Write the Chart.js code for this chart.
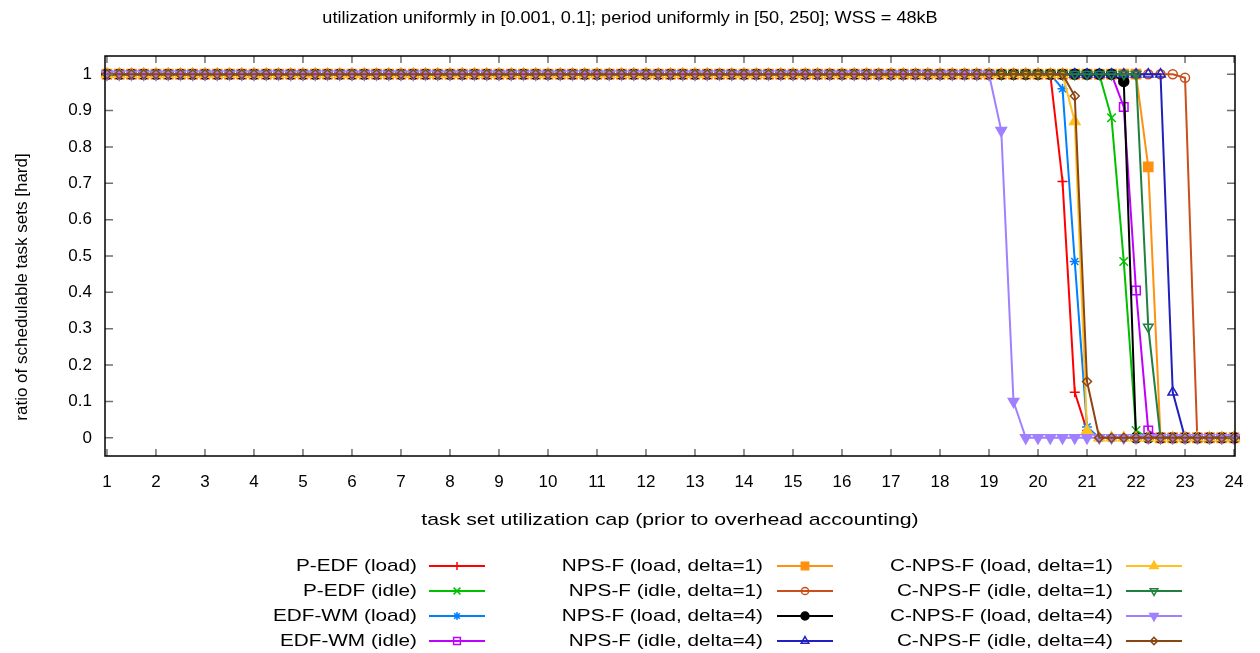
<!DOCTYPE html>
<html>
<head>
<meta charset="utf-8">
<script src="https://cdn.jsdelivr.net/npm/chart.js@4/dist/chart.umd.min.js"></script>
<style>
html,body{margin:0;padding:0;background:#fff;}
#wrap{width:1260px;height:653px;}
</style>
</head>
<body>
<div id="wrap"><canvas id="c" width="1260" height="653"></canvas></div>
<script>
const titleText = "utilization uniformly in [0.001, 0.1]; period uniformly in [50, 250]; WSS = 48kB";
const xLabel = "task set utilization cap (prior to overhead accounting)";
const yLabel = "ratio of schedulable task sets [hard]";

const utilCap = [
  1,1.25,1.5,1.75, 2,2.25,2.5,2.75, 3,3.25,3.5,3.75, 4,4.25,4.5,4.75,
  5,5.25,5.5,5.75, 6,6.25,6.5,6.75, 7,7.25,7.5,7.75, 8,8.25,8.5,8.75,
  9,9.25,9.5,9.75, 10,10.25,10.5,10.75, 11,11.25,11.5,11.75, 12,12.25,12.5,12.75,
  13,13.25,13.5,13.75, 14,14.25,14.5,14.75, 15,15.25,15.5,15.75, 16,16.25,16.5,16.75,
  17,17.25,17.5,17.75, 18,18.25,18.5,18.75,
  19,19.25,19.5,19.75, 20,20.25,20.5,20.75, 21,21.25,21.5,21.75, 22,22.25,22.5,22.75,
  23,23.25,23.5,23.75, 24
];

const xTickLabels = ["1","2","3","4","5","6","7","8","9","10","11","12","13","14","15","16","17","18","19","20","21","22","23","24"];
const yTickLabels = ["0","0.1","0.2","0.3","0.4","0.5","0.6","0.7","0.8","0.9","1"];

// first 72 values (caps 1 .. 18.75) followed by caps 19 .. 24
const pEdfLoad = [
  1,1,1,1,1,1,1,1,1,1,1,1, 1,1,1,1,1,1,1,1,1,1,1,1,
  1,1,1,1,1,1,1,1,1,1,1,1, 1,1,1,1,1,1,1,1,1,1,1,1,
  1,1,1,1,1,1,1,1,1,1,1,1, 1,1,1,1,1,1,1,1,1,1,1,1,
  1,1,1,1,1,1,0.705,0.125,0.02,0,0,0,0,0,0,0,0,0,0,0,0
];
const pEdfIdle = [
  1,1,1,1,1,1,1,1,1,1,1,1, 1,1,1,1,1,1,1,1,1,1,1,1,
  1,1,1,1,1,1,1,1,1,1,1,1, 1,1,1,1,1,1,1,1,1,1,1,1,
  1,1,1,1,1,1,1,1,1,1,1,1, 1,1,1,1,1,1,1,1,1,1,1,1,
  1,1,1,1,1,1,1,1,1,1,0.88,0.485,0.02,0,0,0,0,0,0,0,0
];
const edfWmLoad = [
  1,1,1,1,1,1,1,1,1,1,1,1, 1,1,1,1,1,1,1,1,1,1,1,1,
  1,1,1,1,1,1,1,1,1,1,1,1, 1,1,1,1,1,1,1,1,1,1,1,1,
  1,1,1,1,1,1,1,1,1,1,1,1, 1,1,1,1,1,1,1,1,1,1,1,1,
  1,1,1,1,1,1,0.96,0.485,0.03,0,0,0,0,0,0,0,0,0,0,0,0
];
const edfWmIdle = [
  1,1,1,1,1,1,1,1,1,1,1,1, 1,1,1,1,1,1,1,1,1,1,1,1,
  1,1,1,1,1,1,1,1,1,1,1,1, 1,1,1,1,1,1,1,1,1,1,1,1,
  1,1,1,1,1,1,1,1,1,1,1,1, 1,1,1,1,1,1,1,1,1,1,1,1,
  1,1,1,1,1,1,1,1,1,1,1,0.91,0.405,0.02,0,0,0,0,0,0,0
];
const npsfLoad1 = [
  1,1,1,1,1,1,1,1,1,1,1,1, 1,1,1,1,1,1,1,1,1,1,1,1,
  1,1,1,1,1,1,1,1,1,1,1,1, 1,1,1,1,1,1,1,1,1,1,1,1,
  1,1,1,1,1,1,1,1,1,1,1,1, 1,1,1,1,1,1,1,1,1,1,1,1,
  1,1,1,1,1,1,1,1,1,1,1,1,1,0.745,0,0,0,0,0,0,0
];
const npsfIdle1 = [
  1,1,1,1,1,1,1,1,1,1,1,1, 1,1,1,1,1,1,1,1,1,1,1,1,
  1,1,1,1,1,1,1,1,1,1,1,1, 1,1,1,1,1,1,1,1,1,1,1,1,
  1,1,1,1,1,1,1,1,1,1,1,1, 1,1,1,1,1,1,1,1,1,1,1,1,
  1,1,1,1,1,1,1,1,1,1,1,1,1,1,1,1,0.99,0,0,0,0
];
const npsfLoad4 = [
  1,1,1,1,1,1,1,1,1,1,1,1, 1,1,1,1,1,1,1,1,1,1,1,1,
  1,1,1,1,1,1,1,1,1,1,1,1, 1,1,1,1,1,1,1,1,1,1,1,1,
  1,1,1,1,1,1,1,1,1,1,1,1, 1,1,1,1,1,1,1,1,1,1,1,1,
  1,1,1,1,1,1,1,1,1,1,1,0.98,0,0,0,0,0,0,0,0,0
];
const npsfIdle4 = [
  1,1,1,1,1,1,1,1,1,1,1,1, 1,1,1,1,1,1,1,1,1,1,1,1,
  1,1,1,1,1,1,1,1,1,1,1,1, 1,1,1,1,1,1,1,1,1,1,1,1,
  1,1,1,1,1,1,1,1,1,1,1,1, 1,1,1,1,1,1,1,1,1,1,1,1,
  1,1,1,1,1,1,1,1,1,1,1,1,1,1,1,0.125,0,0,0,0,0
];
const cnpsfLoad1 = [
  1,1,1,1,1,1,1,1,1,1,1,1, 1,1,1,1,1,1,1,1,1,1,1,1,
  1,1,1,1,1,1,1,1,1,1,1,1, 1,1,1,1,1,1,1,1,1,1,1,1,
  1,1,1,1,1,1,1,1,1,1,1,1, 1,1,1,1,1,1,1,1,1,1,1,1,
  1,1,1,1,1,1,1,0.87,0.02,0,0,0,0,0,0,0,0,0,0,0,0
];
const cnpsfIdle1 = [
  1,1,1,1,1,1,1,1,1,1,1,1, 1,1,1,1,1,1,1,1,1,1,1,1,
  1,1,1,1,1,1,1,1,1,1,1,1, 1,1,1,1,1,1,1,1,1,1,1,1,
  1,1,1,1,1,1,1,1,1,1,1,1, 1,1,1,1,1,1,1,1,1,1,1,1,
  1,1,1,1,1,1,1,1,1,1,1,1,1,0.305,0,0,0,0,0,0,0
];
const cnpsfLoad4 = [
  1,1,1,1,1,1,1,1,1,1,1,1, 1,1,1,1,1,1,1,1,1,1,1,1,
  1,1,1,1,1,1,1,1,1,1,1,1, 1,1,1,1,1,1,1,1,1,1,1,1,
  1,1,1,1,1,1,1,1,1,1,1,1, 1,1,1,1,1,1,1,1,1,1,1,1,
  1,0.845,0.1,0,0,0,0,0,0,0,0,0,0,0,0,0,0,0,0,0,0
];
const cnpsfIdle4 = [
  1,1,1,1,1,1,1,1,1,1,1,1, 1,1,1,1,1,1,1,1,1,1,1,1,
  1,1,1,1,1,1,1,1,1,1,1,1, 1,1,1,1,1,1,1,1,1,1,1,1,
  1,1,1,1,1,1,1,1,1,1,1,1, 1,1,1,1,1,1,1,1,1,1,1,1,
  1,1,1,1,1,1,1,0.94,0.155,0,0,0,0,0,0,0,0,0,0,0,0
];

const seriesNames = [
  "P-EDF (load)", "P-EDF (idle)", "EDF-WM (load)", "EDF-WM (idle)",
  "NPS-F (load, delta=1)", "NPS-F (idle, delta=1)", "NPS-F (load, delta=4)", "NPS-F (idle, delta=4)",
  "C-NPS-F (load, delta=1)", "C-NPS-F (idle, delta=1)", "C-NPS-F (load, delta=4)", "C-NPS-F (idle, delta=4)"
];
const seriesValues = [pEdfLoad, pEdfIdle, edfWmLoad, edfWmIdle, npsfLoad1, npsfIdle1, npsfLoad4, npsfIdle4, cnpsfLoad1, cnpsfIdle1, cnpsfLoad4, cnpsfIdle4];

// styling (not data)
const styles = [
  {c:'#ff0000', ps:'cross',    r:5,   rot:0,   fill:false},
  {c:'#00c000', ps:'crossRot', r:6,   rot:0,   fill:false},
  {c:'#0080ff', ps:'star',     r:5,   rot:0,   fill:false},
  {c:'#c000ff', ps:'rect',     r:6,   rot:0,   fill:false},
  {c:'#ff9010', ps:'rect',     r:6.5, rot:0,   fill:true},
  {c:'#c8501e', ps:'circle',   r:4.5, rot:0,   fill:false},
  {c:'#000000', ps:'circle',   r:5,   rot:0,   fill:true},
  {c:'#2020c0', ps:'triangle', r:5.5, rot:0,   fill:false},
  {c:'#ffc020', ps:'triangle', r:6,   rot:0,   fill:true},
  {c:'#208040', ps:'triangle', r:5.5, rot:180, fill:false},
  {c:'#a080ff', ps:'triangle', r:6,   rot:180, fill:true},
  {c:'#8b4513', ps:'rectRot',  r:4.5, rot:0,   fill:false}
];

const datasets = seriesValues.map((vals, i) => {
  const s = styles[i];
  return {
    label: seriesNames[i],
    data: utilCap.map((x, k) => ({x: x, y: vals[k]})),
    borderColor: s.c,
    backgroundColor: s.c,
    borderWidth: 2,
    pointStyle: s.ps,
    pointRadius: s.r,
    pointRotation: s.rot,
    pointBorderColor: s.c,
    pointBackgroundColor: s.fill ? s.c : 'rgba(0,0,0,0)',
    pointBorderWidth: 1.5,
    pointHoverRadius: s.r,
    tension: 0,
    fill: false,
    clip: false,
    order: seriesValues.length - i
  };
});

const SX = 1.22;
const FONT = '17px "Liberation Sans", Arial, sans-serif';

function sText(ctx, str, x, y, align, sx) {
  ctx.save();
  ctx.translate(x, y);
  ctx.scale(sx, 1);
  ctx.textAlign = align;
  ctx.textBaseline = 'middle';
  ctx.fillText(str, 0, 0);
  ctx.restore();
}

const gnuplotLook = {
  id: 'gnuplotLook',
  afterDatasetsDraw(chart) {
    const ctx = chart.ctx, a = chart.chartArea, xs = chart.scales.x, ys = chart.scales.y;
    ctx.save();
    ctx.strokeStyle = '#707070';
    ctx.lineWidth = 1.5;
    ctx.beginPath();
    xs.ticks.forEach(t => {
      const px = xs.getPixelForValue(t.value);
      ctx.moveTo(px, a.bottom); ctx.lineTo(px, a.bottom - 7);
      ctx.moveTo(px, a.top); ctx.lineTo(px, a.top + 7);
    });
    ys.ticks.forEach(t => {
      const py = ys.getPixelForValue(t.value);
      ctx.moveTo(a.left, py); ctx.lineTo(a.left + 8, py);
      ctx.moveTo(a.right, py); ctx.lineTo(a.right - 8, py);
    });
    ctx.stroke();
    ctx.strokeStyle = '#000';
    ctx.lineWidth = 1.5;
    ctx.strokeRect(a.left, a.top, a.right - a.left, a.bottom - a.top);
    ctx.restore();
  },
  afterDraw(chart) {
    const ctx = chart.ctx, a = chart.chartArea;
    ctx.save();
    ctx.fillStyle = '#000';
    ctx.font = FONT;
    sText(ctx, titleText, 630, 18, 'center', 1.065);
    sText(ctx, xLabel, (a.left + a.right) / 2, 520, 'center', 1.25);
    // y label (rotated)
    ctx.save();
    ctx.translate(22, 287);
    ctx.rotate(-Math.PI / 2);
    ctx.textAlign = 'center';
    ctx.textBaseline = 'middle';
    ctx.fillText(yLabel, 0, 0);
    ctx.restore();

    // legend: 3 columns x 4 rows
    const textRight = [417, 763, 1113];
    const lineX1 = [429, 777, 1126];
    const lineX2 = [485, 833, 1182];
    const rowY = [566, 591, 616, 641];
    chart.data.datasets.forEach((ds, i) => {
      const col = Math.floor(i / 4), row = i % 4;
      const y = rowY[row];
      ctx.fillStyle = '#000';
      sText(ctx, ds.label, textRight[col], y, 'right', SX);
      ctx.strokeStyle = ds.borderColor;
      ctx.lineWidth = 2;
      ctx.beginPath();
      ctx.moveTo(lineX1[col], y); ctx.lineTo(lineX2[col], y);
      ctx.stroke();
      const mx = (lineX1[col] + lineX2[col]) / 2;
      ctx.fillStyle = ds.pointBackgroundColor;
      ctx.strokeStyle = ds.pointBorderColor;
      ctx.lineWidth = 1.5;
      Chart.helpers.drawPoint(ctx, {
        pointStyle: ds.pointStyle,
        rotation: ds.pointRotation,
        radius: ds.pointRadius * 0.8,
        borderWidth: 1.5
      }, mx, y);
    });
    ctx.restore();
  }
};

new Chart(document.getElementById('c'), {
  type: 'line',
  data: { datasets: datasets },
  plugins: [gnuplotLook],
  options: {
    responsive: false,
    animation: false,
    devicePixelRatio: 1,
    layout: { padding: { top: 56, right: 25, left: 0, bottom: 0 } },
    plugins: { legend: { display: false }, title: { display: false }, tooltip: { enabled: false } },
    scales: {
      x: {
        type: 'linear',
        min: 0.96, max: 24.02,
        grid: { display: false, drawTicks: false },
        border: { display: false },
        afterFit(scale) { scale.height = 653 - 456; },
        afterBuildTicks(scale) {
          scale.ticks = xTickLabels.map(l => ({ value: Number(l) }));
        },
        ticks: {
          autoSkip: false, maxRotation: 0, padding: 16,
          color: '#000',
          font: { family: '"Liberation Sans", Arial, sans-serif', size: 17 },
          callback: (v) => xTickLabels.find(l => Number(l) === v) || ''
        }
      },
      y: {
        type: 'linear',
        min: -0.05, max: 1.05,
        grid: { display: false, drawTicks: false },
        border: { display: false },
        afterFit(scale) { scale.width = 105; },
        afterBuildTicks(scale) {
          scale.ticks = yTickLabels.map(l => ({ value: Number(l) }));
        },
        ticks: {
          autoSkip: false, padding: 13,
          color: '#000',
          font: { family: '"Liberation Sans", Arial, sans-serif', size: 17 },
          callback: (v) => yTickLabels.find(l => Math.abs(Number(l) - v) < 1e-9) || ''
        }
      }
    }
  }
});
</script>
</body>
</html>
